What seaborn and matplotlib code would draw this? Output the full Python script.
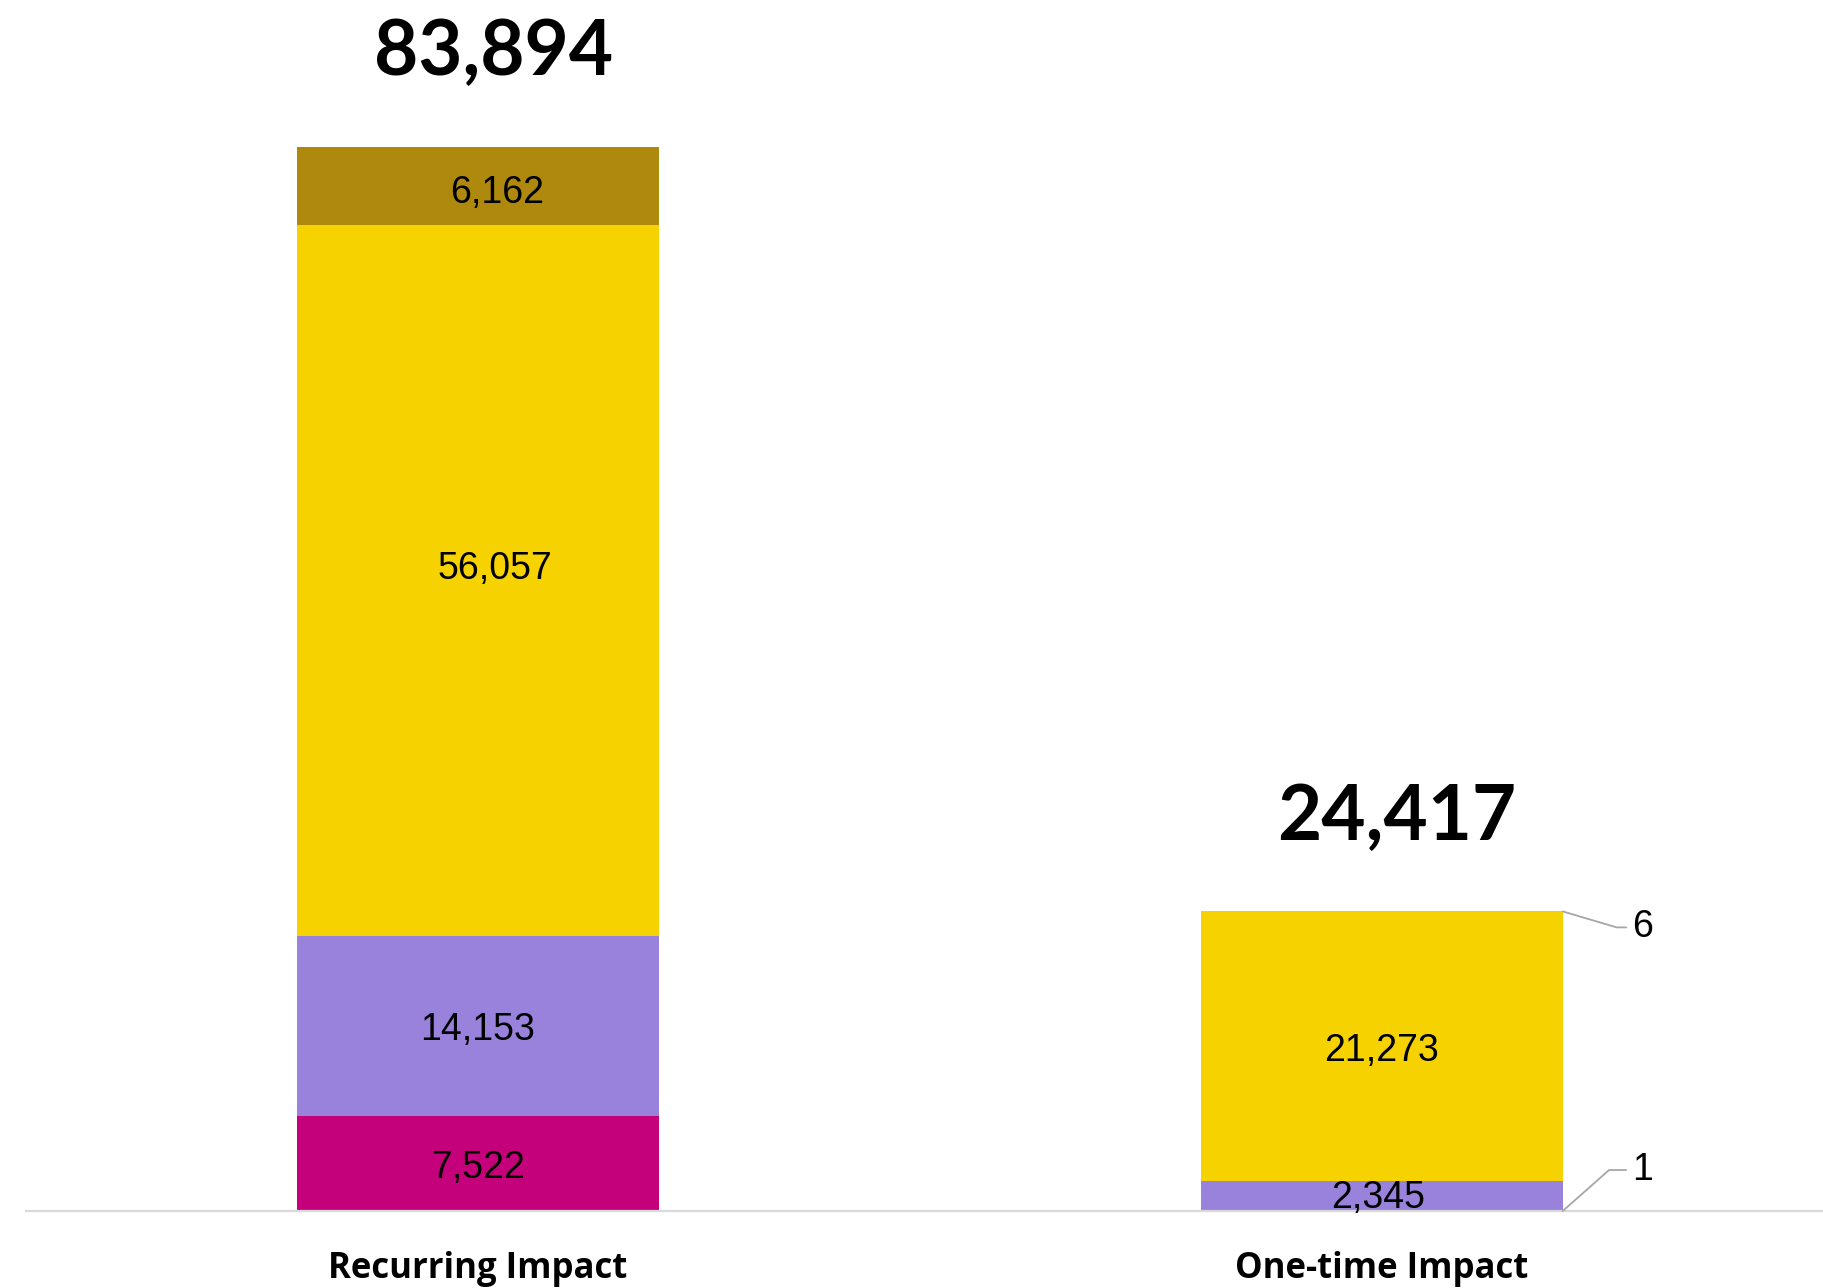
import numpy as np
import matplotlib
matplotlib.use("Agg")
import matplotlib.pyplot as plt
import seaborn as sns
import pandas as pd

# data
categories = ["Recurring Impact", "One-time Impact"]
segments = ["magenta", "purple", "yellow", "gold"]   # bottom -> top
recurring = [7522, 14153, 56057, 6162]
one_time = [1, 2345, 21273, 6]
totals_text = ["83,894", "24,417"]

colors = {"magenta": "#C5007B", "purple": "#9982DB", "yellow": "#F6D300", "gold": "#AF890D"}

sns.set_style("white")
plt.rcParams['font.family'] = ['Liberation Sans', 'DejaVu Sans']

vals = np.array([recurring, one_time], dtype=float)   # rows = categories
cum = np.cumsum(vals, axis=1)
bottoms = cum - vals

fig = plt.figure(figsize=(18.24, 12.88), dpi=100)
ax = fig.add_axes([26/1824, 1 - 1211/1288, 1 - 26/1824, 1211/1288])

bar_w = 0.4
# stacked bars: draw cumulative heights from the top segment down so shorter ones overlay
for j in range(len(segments) - 1, -1, -1):
    df = pd.DataFrame({"cat": categories, "h": cum[:, j]})
    sns.barplot(data=df, x="cat", y="h", order=categories, color=colors[segments[j]],
                width=bar_w, linewidth=0, saturation=1, errorbar=None, ax=ax)

# segment labels (small offsets in points, as in the original)
lab_dx = [[0, 0, 12, 14], [0, -3, 0, 0]]
lab_dy = [[-3.3, -3.3, 8.4, -5], [0, -1, -3.3, 0]]
for i in range(len(categories)):
    for j in range(len(segments)):
        v = vals[i, j]
        if v < 100:
            continue
        ax.annotate(f"{int(v):,}", xy=(i, bottoms[i, j] + v / 2), xytext=(lab_dx[i][j], lab_dy[i][j]),
                    textcoords="offset points", ha="center", va="center", fontsize=27, color="black")

# tiny segments on the second bar, with leader lines
leader = {0: (50, 29.5, 41.5), 3: (50, -11.5, -16.5)}
for j, (dx, dy, ang) in leader.items():
    v = vals[1, j]
    yy = cum[1, j] if j == 3 else bottoms[1, j]
    ax.annotate(f"{int(v):,}", xy=(1 + bar_w / 2, yy), xytext=(dx, dy), textcoords="offset points",
                ha="left", va="center", fontsize=27, color="black",
                arrowprops=dict(arrowstyle="-", color="#a6a6a6", lw=1.3, shrinkA=2, shrinkB=0,
                                connectionstyle=f"angle,angleA=0,angleB={ang},rad=0"))

# totals above the bars
for i, t in enumerate(totals_text):
    ax.annotate(t, xy=(i, cum[i, -1]), xytext=(11, 67.5), textcoords="offset points",
                ha="center", va="center", fontsize=55, fontweight="bold", family="Lato", color="black")

ax.set_xlim(-0.5, 1.489)
ax.set_ylim(0, 95500)
ax.set_xlabel("")
ax.set_ylabel("")
ax.set_yticks([])
for s in ["top", "left", "right"]:
    ax.spines[s].set_visible(False)
ax.spines["bottom"].set_color("#d9d9d9")
ax.spines["bottom"].set_linewidth(1.6)
ax.tick_params(axis="x", length=0, pad=29)
ax.set_xticks(range(len(categories)))
ax.set_xticklabels(categories, fontsize=25, fontweight="bold", family="Open Sans", color="black")

fig.savefig("out.png", dpi=100)
